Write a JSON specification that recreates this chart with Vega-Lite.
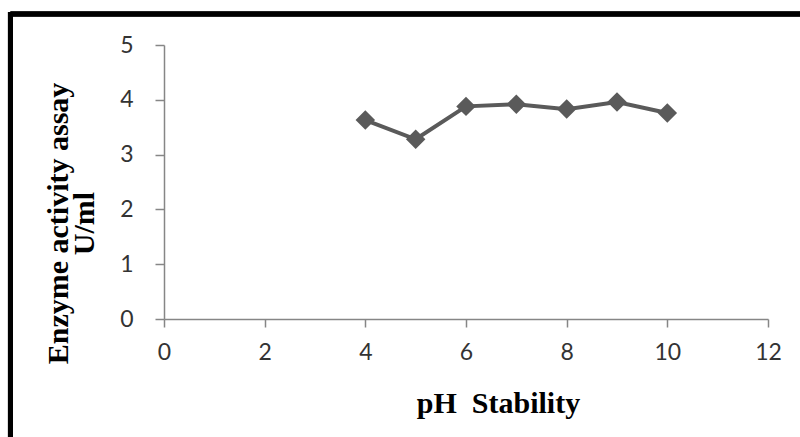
{
  "$schema": "https://vega.github.io/schema/vega-lite/v6.json",
  "autosize": {"type": "none"},
  "width": 604,
  "height": 274,
  "padding": {"left": 164, "top": 45, "right": 32, "bottom": 118},
  "background": "#ffffff",
  "config": {"view": {"stroke": null}},
  "data": {"values": [
    {"pH": 4, "activity": 3.63},
    {"pH": 5, "activity": 3.28},
    {"pH": 6, "activity": 3.88},
    {"pH": 7, "activity": 3.92},
    {"pH": 8, "activity": 3.83},
    {"pH": 9, "activity": 3.96},
    {"pH": 10, "activity": 3.76}
  ]},
  "layer": [
    {
      "mark": {"type": "rule", "color": "#000000", "strokeWidth": 4.5},
      "encoding": {
        "x": {"datum": -3.05, "type": "quantitative"},
        "x2": {"datum": 13.5},
        "y": {"datum": 5.566, "type": "quantitative"}
      }
    },
    {
      "mark": {"type": "rule", "color": "#000000", "strokeWidth": 5},
      "encoding": {
        "x": {"datum": -3.05, "type": "quantitative"},
        "y": {"datum": 5.6, "type": "quantitative"},
        "y2": {"datum": -2.5}
      }
    },
    {
      "mark": {"type": "line", "color": "#5a5a5a", "strokeWidth": 4,
               "point": {"shape": "diamond", "size": 380, "filled": true, "color": "#5a5a5a", "opacity": 1}},
      "encoding": {
        "x": {
          "field": "pH", "type": "quantitative",
          "scale": {"domain": [0, 12], "nice": false, "zero": false},
          "axis": {
            "title": "pH\u00a0 Stability",
            "values": [0, 2, 4, 6, 8, 10, 12],
            "grid": false,
            "domainColor": "#868686", "domainWidth": 1.5,
            "tickColor": "#868686", "tickWidth": 1.5, "tickSize": 8,
            "labelFont": "Lato", "labelFontSize": 23, "labelColor": "#333333",
            "labelPadding": 14, "labelFlush": false,
            "titleFont": "Liberation Serif", "titleFontSize": 30, "titleFontWeight": "bold", "titleColor": "#000000",
            "titleX": 334, "titleY": 93, "titleAlign": "center", "titleBaseline": "alphabetic"
          }
        },
        "y": {
          "field": "activity", "type": "quantitative",
          "scale": {"domain": [0, 5], "nice": false},
          "axis": {
            "title": ["Enzyme activity assay", "U/ml"],
            "values": [0, 1, 2, 3, 4, 5],
            "grid": false,
            "domainColor": "#868686", "domainWidth": 1.5,
            "tickColor": "#868686", "tickWidth": 1.5, "tickSize": 9,
            "labelFont": "Lato", "labelFontSize": 23, "labelColor": "#333333",
            "labelPadding": 22,
            "titleFont": "Liberation Serif", "titleFontSize": 30, "titleFontWeight": "bold", "titleColor": "#000000",
            "titleLineHeight": 26,
            "titleX": -106, "titleY": 178, "titleAlign": "center", "titleBaseline": "middle", "titleAngle": -90
          }
        }
      }
    }
  ]
}
